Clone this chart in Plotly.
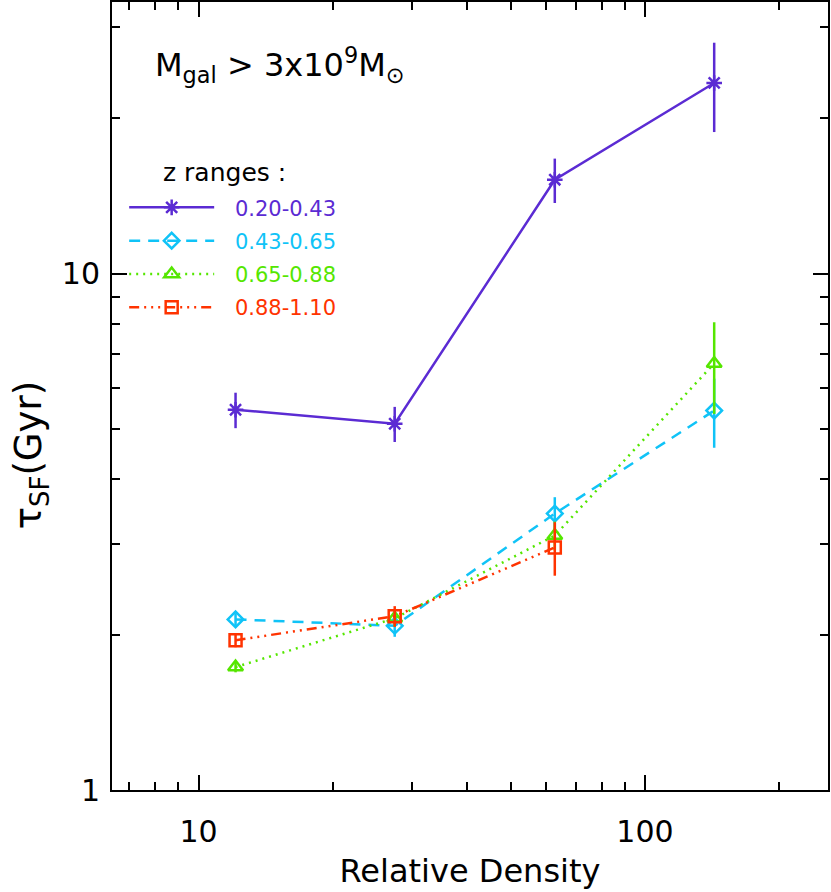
import plotly.graph_objects as go

# relative density bins (same for every z range)
density = [12.1, 27.5, 62.8, 142.9]

# tau_SF (Gyr) and symmetric errors, one list per redshift range
tau_z1 = [5.45, 5.12, 15.2, 23.4]
err_z1 = [0.43, 0.40, 1.5, 4.6]

tau_z2 = [2.14, 2.08, 3.43, 5.43]
err_z2 = [0.06, 0.10, 0.26, 0.83]

tau_z3 = [1.73, 2.15, 3.11, 6.70]
err_z3 = [0.04, 0.08, 0.20, 1.35]

tau_z4 = [1.95, 2.17, 2.95, None]
err_z4 = [0.06, 0.10, 0.35, None]

z_labels = ["0.20-0.43", "0.43-0.65", "0.65-0.88", "0.88-1.10"]

FONT = "DejaVu Sans"

series = [
    (tau_z1, err_z1, "#5b2bd3", "solid", "asterisk-open", 13),
    (tau_z2, err_z2, "#10c3f7", "11px,8px", "diamond-open", 12),
    (tau_z3, err_z3, "#55e600", "2px,5px", "triangle-up-open", 13),
    (tau_z4, err_z4, "#ff3300", "10px,5px,2px,5px,2px,5px,2px,5px", "square-open", 12),
]

fig = go.Figure()
for i, (tau, err, col, dash, sym, msize) in enumerate(series):
    fig.add_trace(go.Scatter(
        x=density, y=tau,
        mode="lines+markers",
        name=f"<span style='color:{col}'>\u2002\u2005{z_labels[i]}</span>",
        legendgroup=f"g{i}",
        line=dict(color=col, width=2.5, dash=dash),
        marker=dict(symbol=sym, size=msize, color=col, line=dict(color=col, width=2.5)),
        error_y=dict(type="data", array=err, visible=True, color=col, thickness=2.5, width=0),
    ))

# label in the top-left corner
fig.add_annotation(
    x=0.057, y=0.92, xref="paper", yref="paper", xanchor="left", yanchor="middle",
    text="M<sub>gal</sub> > 3x10<sup>9</sup>M<sub>⊙</sub>", showarrow=False,
    font=dict(family=FONT, size=32, color="black"),
)
# legend heading
fig.add_annotation(
    x=0.068, y=0.783, xref="paper", yref="paper", xanchor="left", yanchor="middle",
    text="z ranges :", showarrow=False,
    font=dict(family=FONT, size=25, color="black"),
)
# y axis title (sits below the axis centre in the original)
fig.add_annotation(
    x=-0.113, y=0.425, xref="paper", yref="paper", xanchor="center", yanchor="middle",
    text="τ<sub>SF</sub>(Gyr)", showarrow=False, textangle=-90,
    font=dict(family=FONT, size=37, color="black"),
)

axis_common = dict(
    type="log", showgrid=False, zeroline=False, automargin=False,
    showline=True, linecolor="black", linewidth=2, mirror="ticks",
    ticks="inside", ticklen=15, tickwidth=2, tickcolor="black",
    tickfont=dict(family=FONT, size=30, color="black"),
    minor=dict(ticks="inside", ticklen=8, tickwidth=2, tickcolor="black", dtick="D1", showgrid=False),
)

fig.update_xaxes(
    **axis_common, range=[0.806, 2.410], tickvals=[10, 100], ticktext=["10", "100"],
    ticklabelstandoff=14,
    title=dict(text="Relative Density", font=dict(family=FONT, size=32, color="black"), standoff=12),
)
fig.update_yaxes(
    **axis_common, range=[0.0, 1.526], tickvals=[1, 10], ticktext=["1", "10"],
    ticklabelstandoff=4,
)

fig.update_layout(
    width=831, height=892,
    margin=dict(l=112, r=3, t=2, b=102),
    plot_bgcolor="white", paper_bgcolor="white",
    showlegend=True,
    legend=dict(
        x=0.017, y=0.765, xanchor="left", yanchor="top",
        bgcolor="rgba(0,0,0,0)", borderwidth=0,
        itemwidth=85, tracegroupgap=3, traceorder="grouped",
        font=dict(family=FONT, size=21),
        itemclick=False,
    ),
)

fig.write_html("out.html", config={"displayModeBar": False},
               post_script="document.body.style.margin='0';")
